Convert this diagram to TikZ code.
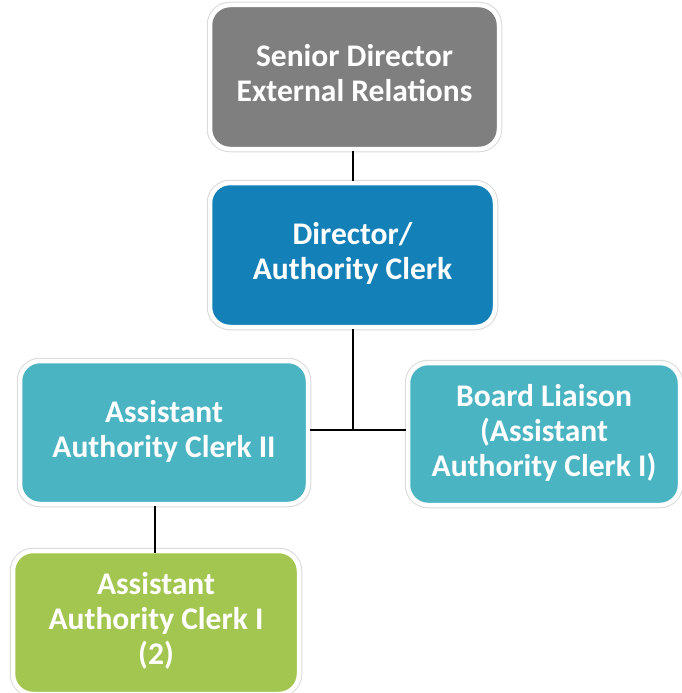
\documentclass[tikz,border=0pt]{standalone}
\usepackage{fontspec}
\setmainfont{Carlito}
\usepackage{tikz}
\definecolor{boxgray}{HTML}{7F7F7F}
\definecolor{boxblue}{HTML}{1380B8}
\definecolor{boxteal}{HTML}{4BB4C3}
\definecolor{boxgreen}{HTML}{A3C651}
\tikzset{
  post/.style={rounded corners=20pt,draw=white,line width=4.5pt,
    preaction={draw=black!15,line width=6.5pt},
    text=white,align=center,inner sep=0pt,text depth=7.5pt,
    font=\fontsize{31.5}{35}\selectfont\bfseries},
  link/.style={line width=1.6pt}
}
\begin{document}
\begin{tikzpicture}[x=1pt,y=-1pt]
\useasboundingbox (0,0) rectangle (681,693);
\node [post,fill=boxgray,minimum width=289pt,minimum height=144pt] (senior) at (354.5,77) {Senior Director\\External Relations};
\node [post,fill=boxblue,minimum width=285pt,minimum height=144pt] (director) at (352.5,255) {Director/\\Authority Clerk};
\node [post,fill=boxteal,minimum width=288pt,minimum height=143pt] (clerkii) at (164,432.5) {Assistant\\Authority Clerk II};
\node [post,fill=boxteal,minimum width=272pt,minimum height=142pt] (liaison) at (544,434) {Board Liaison\\(Assistant\\Authority Clerk I)};
\node [post,fill=boxgreen,minimum width=286pt,minimum height=143pt] (clerki) at (156,622.5) {Assistant\\Authority Clerk I\\(2)};
\coordinate (split) at (353,430);
\draw [link] (senior.south -| split) -- (director.north -| split);
\draw [link] (director.south -| split) -- (split);
\draw [link] (clerkii.east |- split) -- (liaison.west |- split);
\draw [link] (clerkii.south -| clerki.north) ++(-1,0) -- ++(0,47);
\end{tikzpicture}
\end{document}
